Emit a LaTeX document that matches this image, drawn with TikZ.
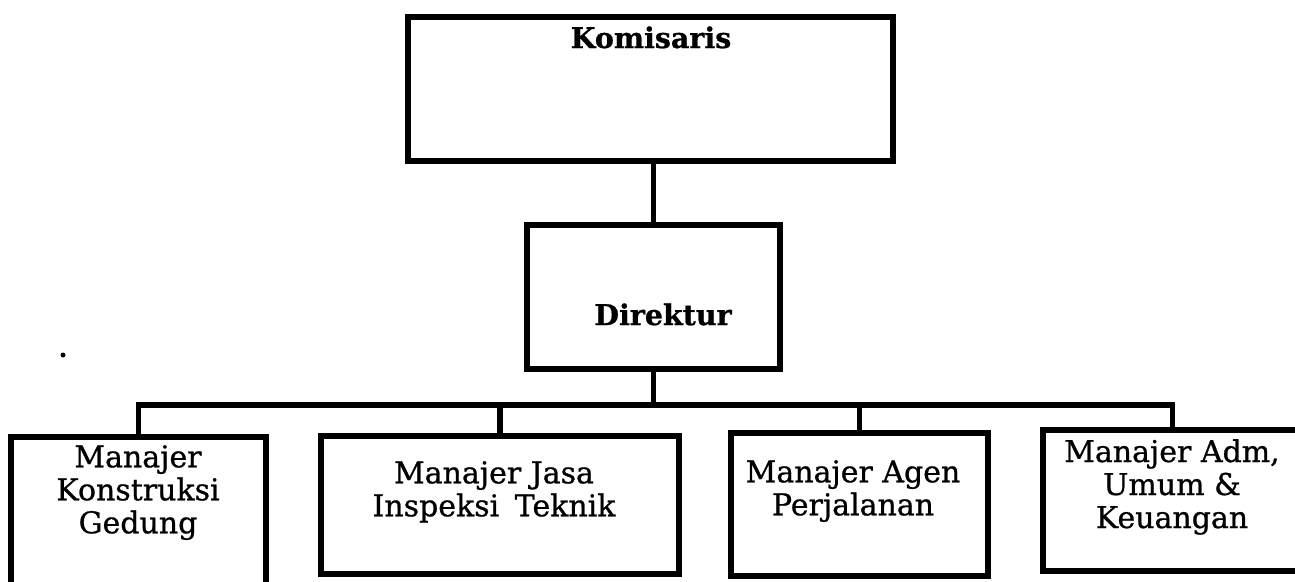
\documentclass[tikz,border=0pt]{standalone}
\usepackage{fontspec}
\setmainfont{DejaVu Serif}
\newfontfamily\mgrfont[FakeBold=0.8]{DejaVu Serif}
\newfontfamily\headfont[FakeBold=0.8]{DejaVu Serif Bold}
\begin{document}
\begin{tikzpicture}[x=1pt,y=-1pt,
  box/.style={draw, line width=5.5pt, rectangle, inner sep=0pt, outer sep=0pt},
  conn/.style={line width=5.5pt, line join=miter},
  lbl/.style={align=center, inner sep=0pt, anchor=north, font=\mgrfont\fontsize{30}{33}\selectfont},
  blbl/.style={inner sep=0pt, anchor=base, font=\headfont\fontsize{28.5}{33}\selectfont}]
\useasboundingbox (0,0) rectangle (1295,581);
\clip (0,0) rectangle (1295,581);
\fill[white] (0,0) rectangle (1295,581);

% boxes
\node[box, minimum width=485pt, minimum height=144pt] (kom) at (650.5,89) {};
\node[box, minimum width=253pt, minimum height=144pt] (dir) at (653.5,297) {};
\node[box, minimum width=255pt, minimum height=158pt] (m1) at (138.5,516) {};
\node[box, minimum width=358pt, minimum height=138pt] (m2) at (500,505) {};
\node[box, minimum width=257pt, minimum height=143pt] (m3) at (859.5,504.5) {};
\node[box, minimum width=259pt, minimum height=141pt] (m4) at (1172.5,500.5) {};

% labels
\node[blbl] (tkom) at (651,48) {Komisaris};
\node[blbl] (tdir) at (663,325) {Direktur};
\node[lbl] (t1) at (138,445) {Manajer\\Konstruksi\\Gedung};
\node[lbl] (t2) at (494,461) {Manajer Jasa\\Inspeksi\hspace{6pt} Teknik};
\node[lbl] (t3) at (853,460) {Manajer Agen\\Perjalanan};
\node[lbl] (t4) at (1172,439) {Manajer Adm,\\Umum \&\\Keuangan};

% stray dot
\node[circle, fill=black, inner sep=0pt, minimum size=5pt] (dot) at (63,355) {};

% connectors
\coordinate (bus) at (653,405);
\draw[conn] (kom.south -| dir.north) -- (dir.north);
\draw[conn] (dir.south) -- (dir.south |- bus);
\draw[conn] (m1.north) |- (m4.north |- bus) -- (m4.north);
\draw[conn] (m2.north |- bus) -- (m2.north);
\draw[conn] (m3.north |- bus) -- (m3.north);
\end{tikzpicture}
\end{document}
